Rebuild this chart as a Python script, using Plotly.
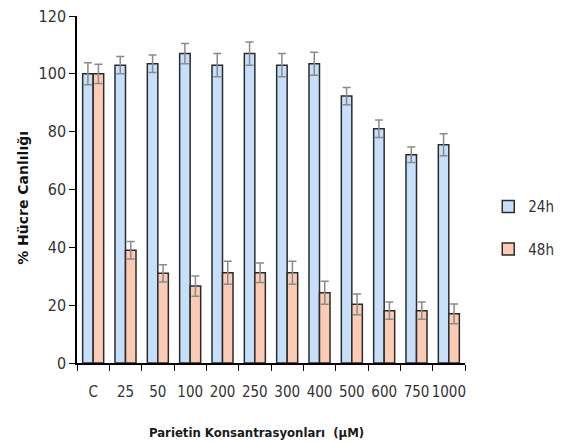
import plotly.graph_objects as go

categories = ["C", "25", "50", "100", "200", "250", "300", "400", "500", "600", "750", "1000"]
h24 = [100, 103, 103.5, 107, 103, 107, 103, 103.5, 92.3, 81, 72, 75.5]
h24_err = [3.8, 3, 3, 3.5, 4, 4, 4, 4, 3, 3, 2.7, 3.8]
h48 = [100, 39, 31, 26.6, 31.2, 31.2, 31.2, 24.3, 20.3, 18.1, 18.1, 17]
h48_err = [3.3, 3, 3, 3.5, 4, 3.4, 4, 4, 3.6, 3, 3, 3.4]

narrow = "Liberation Sans Narrow, DejaVu Sans Condensed, sans-serif"

fig = go.Figure()
fig.add_trace(go.Bar(
    x=categories, y=h24, name="24h", legendgroup="a",
    marker=dict(color="#c6e0fb", line=dict(color="#2b2b2b", width=1.5)),
    error_y=dict(type="data", array=h24_err, color="#8a8a8a", thickness=1.5, width=4),
))
fig.add_trace(go.Bar(
    x=categories, y=h48, name="48h", legendgroup="b",
    marker=dict(color="#fccbb4", line=dict(color="#2b2b2b", width=1.5)),
    error_y=dict(type="data", array=h48_err, color="#8a8a8a", thickness=1.5, width=4),
))

fig.update_layout(
    width=571, height=443,
    margin=dict(l=77, r=75, t=16, b=80),
    paper_bgcolor="white", plot_bgcolor="white",
    barmode="group", bargap=0.35, bargroupgap=0,
    font=dict(family=narrow, color="#333333"),
    legend=dict(x=1.06, y=0.39, xanchor="left", yanchor="middle",
                font=dict(size=15, family=narrow, color="#333"),
                tracegroupgap=20, bgcolor="rgba(0,0,0,0)"),
    xaxis=dict(
        automargin=False,
        showline=True, linecolor="black", linewidth=1.5,
        ticks="outside", tickson="boundaries", ticklen=6, tickcolor="black",
        tickangle=0, ticklabelstandoff=14,
        tickfont=dict(size=15, family=narrow, color="#333"),
    ),
    yaxis=dict(
        automargin=False,
        range=[0, 120], dtick=20, showgrid=False, zeroline=False,
        showline=True, linecolor="black", linewidth=1.5,
        ticks="outside", ticklen=6, tickcolor="black",
        tickfont=dict(size=16, family=narrow, color="#333"),
    ),
    annotations=[
        dict(text="<b>Parietin Konsantrasyonları  (µM)</b>", xref="paper", yref="paper",
             x=0.463, y=-0.199, xanchor="center", yanchor="middle", showarrow=False,
             font=dict(size=13, family=narrow, color="#1a1a1a")),
        dict(text="<b>% Hücre Canlılığı</b>", xref="paper", yref="paper",
             x=-0.14, y=0.475, xanchor="center", yanchor="middle", showarrow=False,
             textangle=-90, font=dict(size=14, family="DejaVu Sans", color="#111")),
    ],
)

fig.write_html("out.html")
